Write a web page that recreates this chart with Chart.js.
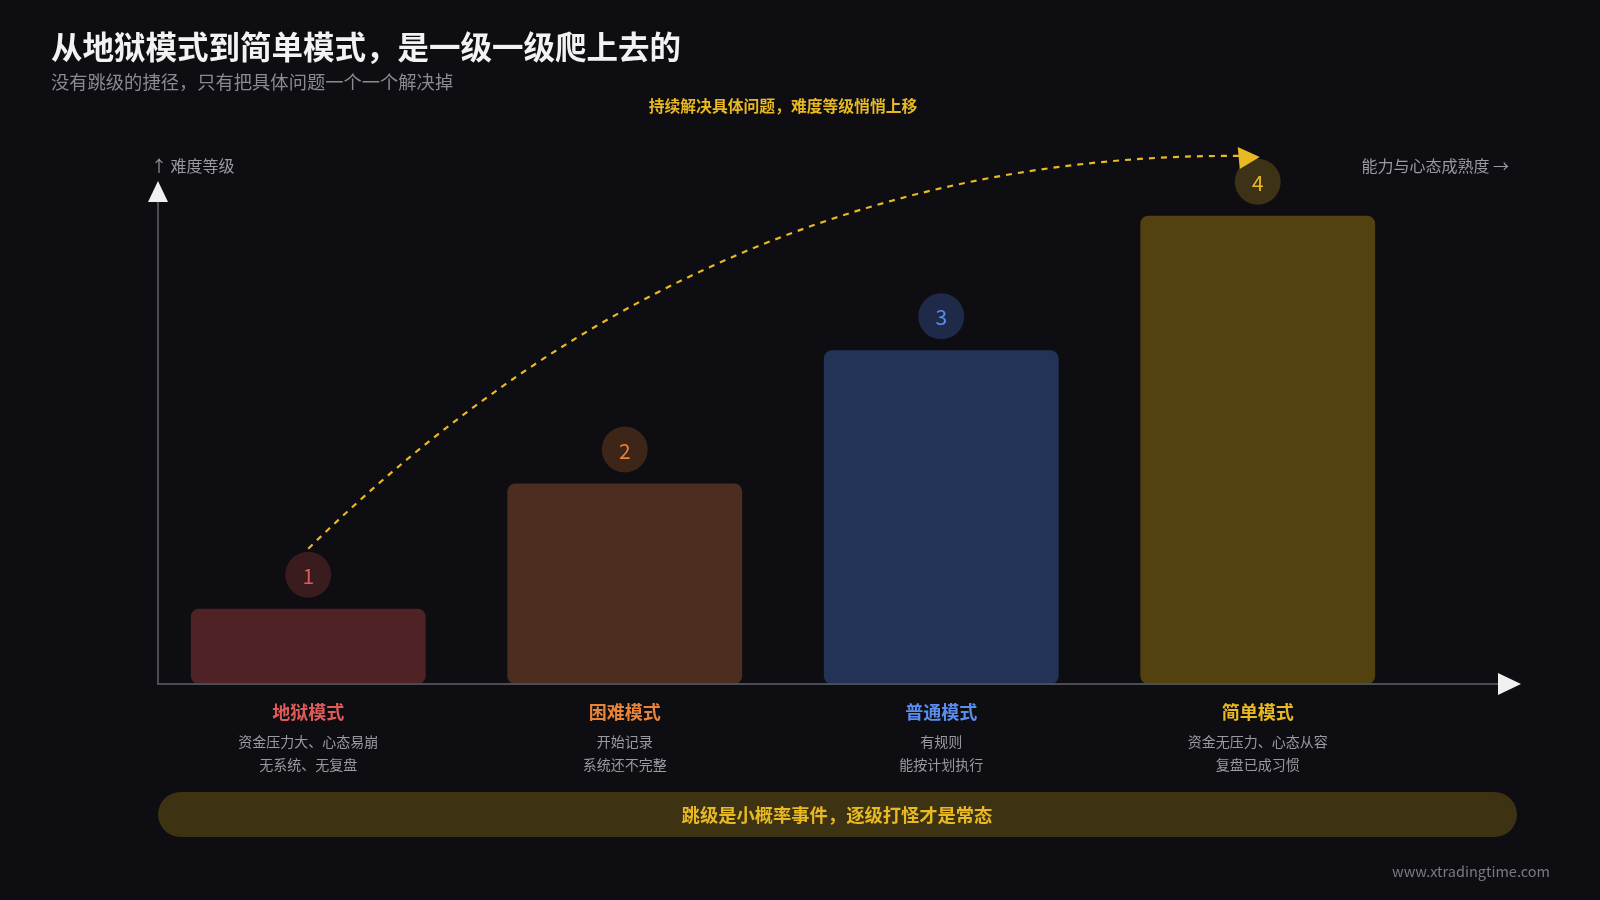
<!DOCTYPE html>
<html>
<head>
<meta charset="utf-8">
<script src="https://cdn.jsdelivr.net/npm/chart.js@4"></script>
<style>
  html, body { margin: 0; padding: 0; background: #0d0d12; }
  #wrap { position: relative; width: 1600px; height: 900px; }
</style>
</head>
<body>
<div id="wrap"><canvas id="chart" width="1600" height="900"></canvas></div>
<script>
// 数据
const modes = ['地狱模式', '困难模式', '普通模式', '简单模式'];
const levels = [15.2, 40.5, 67.4, 94.6];
const badges = ['1', '2', '3', '4'];
const descLine1 = ['资金压力大、心态易崩', '开始记录', '有规则', '资金无压力、心态从容'];
const descLine2 = ['无系统、无复盘', '系统还不完整', '能按计划执行', '复盘已成习惯'];

const barColors = ['#4f2226', '#4b2e20', '#233356', '#544110'];
const badgeColors = ['#3a1c1f', '#3d2518', '#1e2a48', '#3d3215'];
const accentColors = ['#e05a5a', '#e8843a', '#5b8def', '#e8b923'];
const FONT = '"Noto Sans CJK SC", "Noto Sans", sans-serif';

const decor = {
    id: 'decor',
    beforeDraw(chart) {
        const c = chart.ctx;
        c.save();
        c.fillStyle = '#0d0d12';
        c.fillRect(0, 0, chart.width, chart.height);
        c.restore();
    },
    afterDraw(chart) {
        const c = chart.ctx;
        const ys = chart.scales.y;
        const base = ys.getPixelForValue(0);
        c.save();

        // 标题
        c.textBaseline = 'middle';
        c.textAlign = 'left';
        c.fillStyle = '#f2f2f2';
        c.font = `bold 31.5px ${FONT}`;
        c.fillText('从地狱模式到简单模式，是一级一级爬上去的', 51, 47);
        c.fillStyle = '#8a8a90';
        c.font = `18.3px ${FONT}`;
        c.fillText('没有跳级的捷径，只有把具体问题一个一个解决掉', 51, 82);
        c.textAlign = 'center';
        c.fillStyle = '#e8b923';
        c.font = `bold 15.8px ${FONT}`;
        c.fillText('持续解决具体问题，难度等级悄悄上移', 783, 106);

        // 坐标轴
        const ax = 158;
        c.strokeStyle = '#4a4d55';
        c.lineWidth = 2;
        c.beginPath();
        c.moveTo(ax, 198); c.lineTo(ax, base); c.lineTo(1500, base);
        c.stroke();
        c.fillStyle = '#f0f0f0';
        c.beginPath();
        c.moveTo(ax, 181); c.lineTo(ax - 10, 202); c.lineTo(ax + 10, 202); c.closePath(); c.fill();
        c.beginPath();
        c.moveTo(1521, base); c.lineTo(1498, base - 11); c.lineTo(1498, base + 11); c.closePath(); c.fill();
        c.fillStyle = '#9a9aa0';
        c.font = `16px ${FONT}`;
        c.textAlign = 'left';
        c.fillText('↑ 难度等级', 151, 166);
        c.textAlign = 'right';
        c.fillText('能力与心态成熟度 →', 1509, 166);

        // 徽章与标签
        const meta = chart.getDatasetMeta(0);
        meta.data.forEach((bar, i) => {
            const cx = bar.x, cy = bar.y - 34;
            c.fillStyle = badgeColors[i];
            c.beginPath(); c.arc(cx, cy, 23, 0, Math.PI * 2); c.fill();
            c.fillStyle = accentColors[i];
            c.textAlign = 'center';
            c.font = `21px ${FONT}`;
            c.fillText(badges[i], cx, cy + 1);
            c.font = `bold 18px ${FONT}`;
            c.fillText(modes[i], cx, 712);
            c.fillStyle = '#9a9aa0';
            c.font = `14px ${FONT}`;
            c.fillText(descLine1[i], cx, 742);
            c.fillText(descLine2[i], cx, 765);
        });

        // 虚线曲线
        const p0 = meta.data[0], p3 = meta.data[3];
        const sx = p0.x, sy = p0.y - 60;
        const ex = p3.x - 12, ey = 156;
        c.strokeStyle = '#e8b923';
        c.lineWidth = 2.2;
        c.setLineDash([6, 6]);
        c.beginPath();
        c.moveTo(sx, sy);
        c.quadraticCurveTo(715, 150, ex, ey);
        c.stroke();
        c.setLineDash([]);
        c.fillStyle = '#e8b923';
        c.beginPath();
        c.moveTo(ex + 14, ey + 1); c.lineTo(ex - 8, ey - 9); c.lineTo(ex - 6, ey + 13); c.closePath(); c.fill();

        // 底部横幅
        c.fillStyle = '#3d3212';
        c.beginPath();
        c.roundRect(158, 792, 1359, 45, 22.5);
        c.fill();
        c.fillStyle = '#e8b923';
        c.textAlign = 'center';
        c.font = `bold 18.3px ${FONT}`;
        c.fillText('跳级是小概率事件，逐级打怪才是常态', 837, 815);

        c.fillStyle = '#7a7a80';
        c.textAlign = 'right';
        c.font = `14.5px ${FONT}`;
        c.fillText('www.xtradingtime.com', 1550, 871);
        c.restore();
    }
};

new Chart(document.getElementById('chart'), {
    type: 'bar',
    data: {
        labels: modes,
        datasets: [{
            data: levels,
            backgroundColor: barColors,
            borderRadius: 8,
            borderSkipped: false,
            categoryPercentage: 1,
            barPercentage: 0.742
        }]
    },
    options: {
        responsive: false,
        animation: false,
        layout: { padding: { left: 150, right: 184, top: 189, bottom: 216 } },
        plugins: { legend: { display: false }, tooltip: { enabled: false } },
        scales: {
            x: { display: false },
            y: { display: false, min: 0, max: 100 }
        }
    },
    plugins: [decor]
});
</script>
</body>
</html>
